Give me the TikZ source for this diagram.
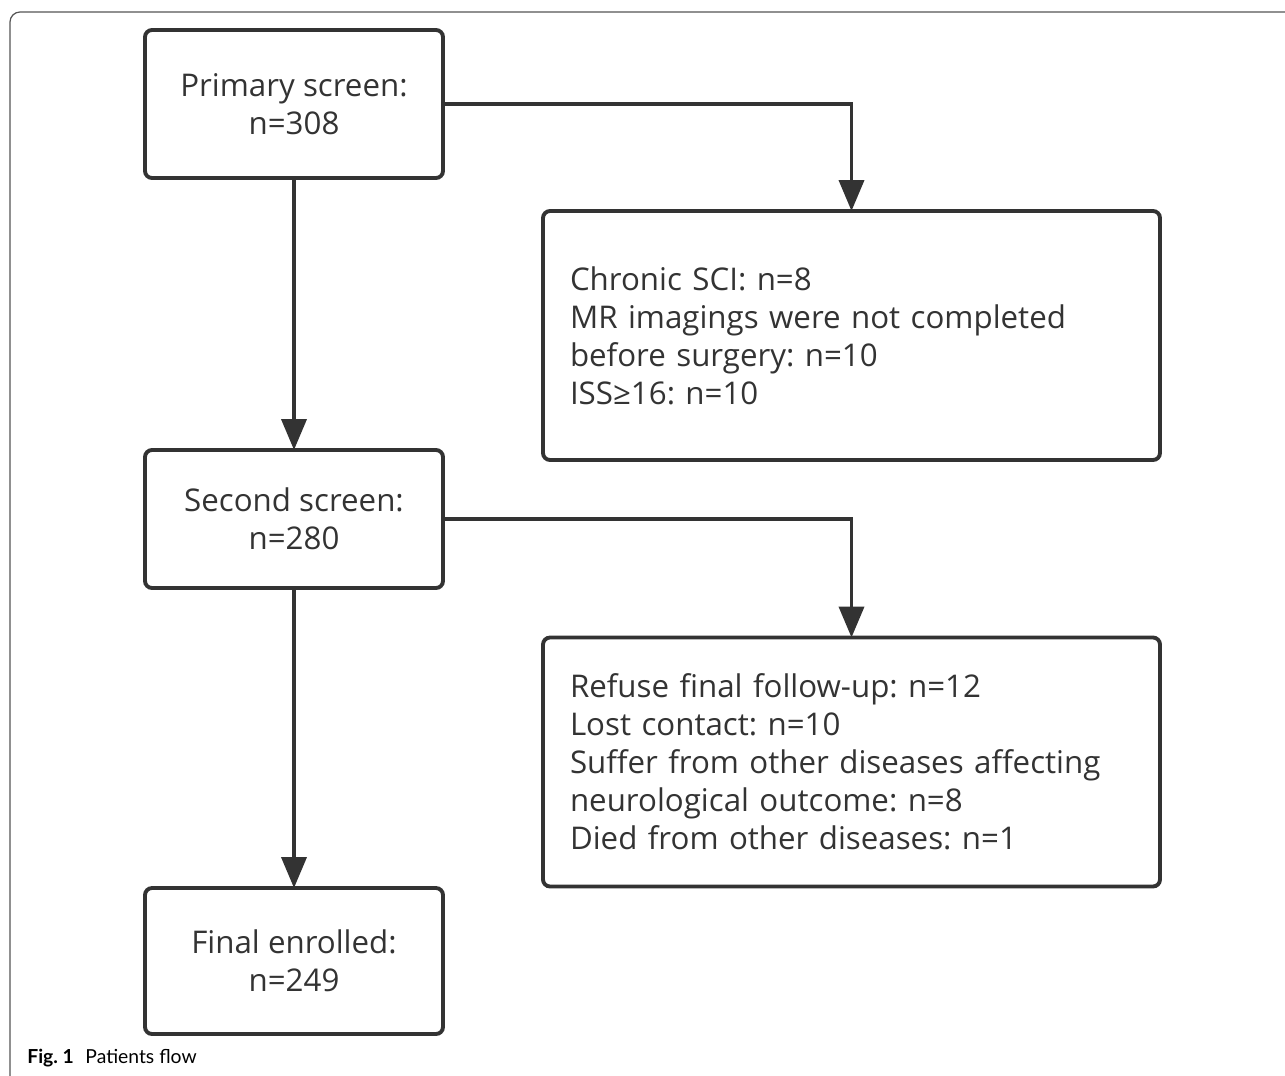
\documentclass[tikz,border=0pt]{standalone}
\usepackage{fontspec}
\setmainfont{Open Sans}
\newfontfamily\capfont{Lato}
\usetikzlibrary{arrows.meta,positioning}
\definecolor{inkgray}{HTML}{333333}
\definecolor{framegray}{HTML}{555555}

\begin{document}
\frenchspacing
\begin{tikzpicture}[node distance= 2cm,
    font=\fontsize{17.8}{21.6}\selectfont,
    every node/.style={text=inkgray},
    stagebox/.style={draw=inkgray, line width=2.2pt, rounded corners=4pt,
      minimum width=5.96cm, align=center, inner sep=0pt, outer sep=0pt},
    exclbox/.style={draw=inkgray, line width=2.2pt, rounded corners=4pt, outer sep=0pt,
      text width=11.26cm, inner xsep=0.54cm, minimum height=4.98cm, align=left},
    flow/.style={draw=inkgray, line width=2.2pt,
      -{Triangle[length=0.62cm, width=0.5cm]}}]
      \useasboundingbox (0,0) rectangle (25.7,-21.5);
      % outer frame of the figure
      \draw[framegray, line width=0.7pt, rounded corners=0.2cm]
        (0.2,-21.6) -- (0.2,-0.24) -- (25.8,-0.24);
      \begin{scope}
        \node[stagebox, minimum height=2.96cm] (primary) at (5.88,-2.08)
          {Primary screen:\\n=308};
        \node[stagebox, minimum height=2.76cm] (second) [below= 5.44cm of primary]
          {Second screen:\\n=280};
        \node[stagebox, minimum height=2.92cm] (final) [below= 6cm of second]
          {Final enrolled:\\n=249};
        \node[exclbox] (excl1) at (17.03,-6.71)
          {Chronic SCI: n=8\\MR imagings were not completed\\before surgery: n=10\\ISS≥16: n=10};
        \node[exclbox] (excl2) at (17.03,-15.24)
          {Refuse final follow-up: n=12\\Lost contact: n=10\\Suffer from other diseases affecting\\neurological outcome: n=8\\Died from other diseases: n=1};
      \end{scope}
      \begin{scope}
        \path[flow] (primary) -- (second);
        \path[flow] (second) -- (final);
        \path[flow] (primary.east) -| (excl1.north);
        \path[flow] (second.east) -| (excl2.north);
      \end{scope}
      \node[anchor=base west, inner sep=0pt, text=black,
        font=\capfont\fontsize{11}{13}\selectfont]
        (caption) at (0.54,-21.26) {\textbf{Fig. 1}\hspace{0.6em}Patients flow};
    \end{tikzpicture}
\end{document}
